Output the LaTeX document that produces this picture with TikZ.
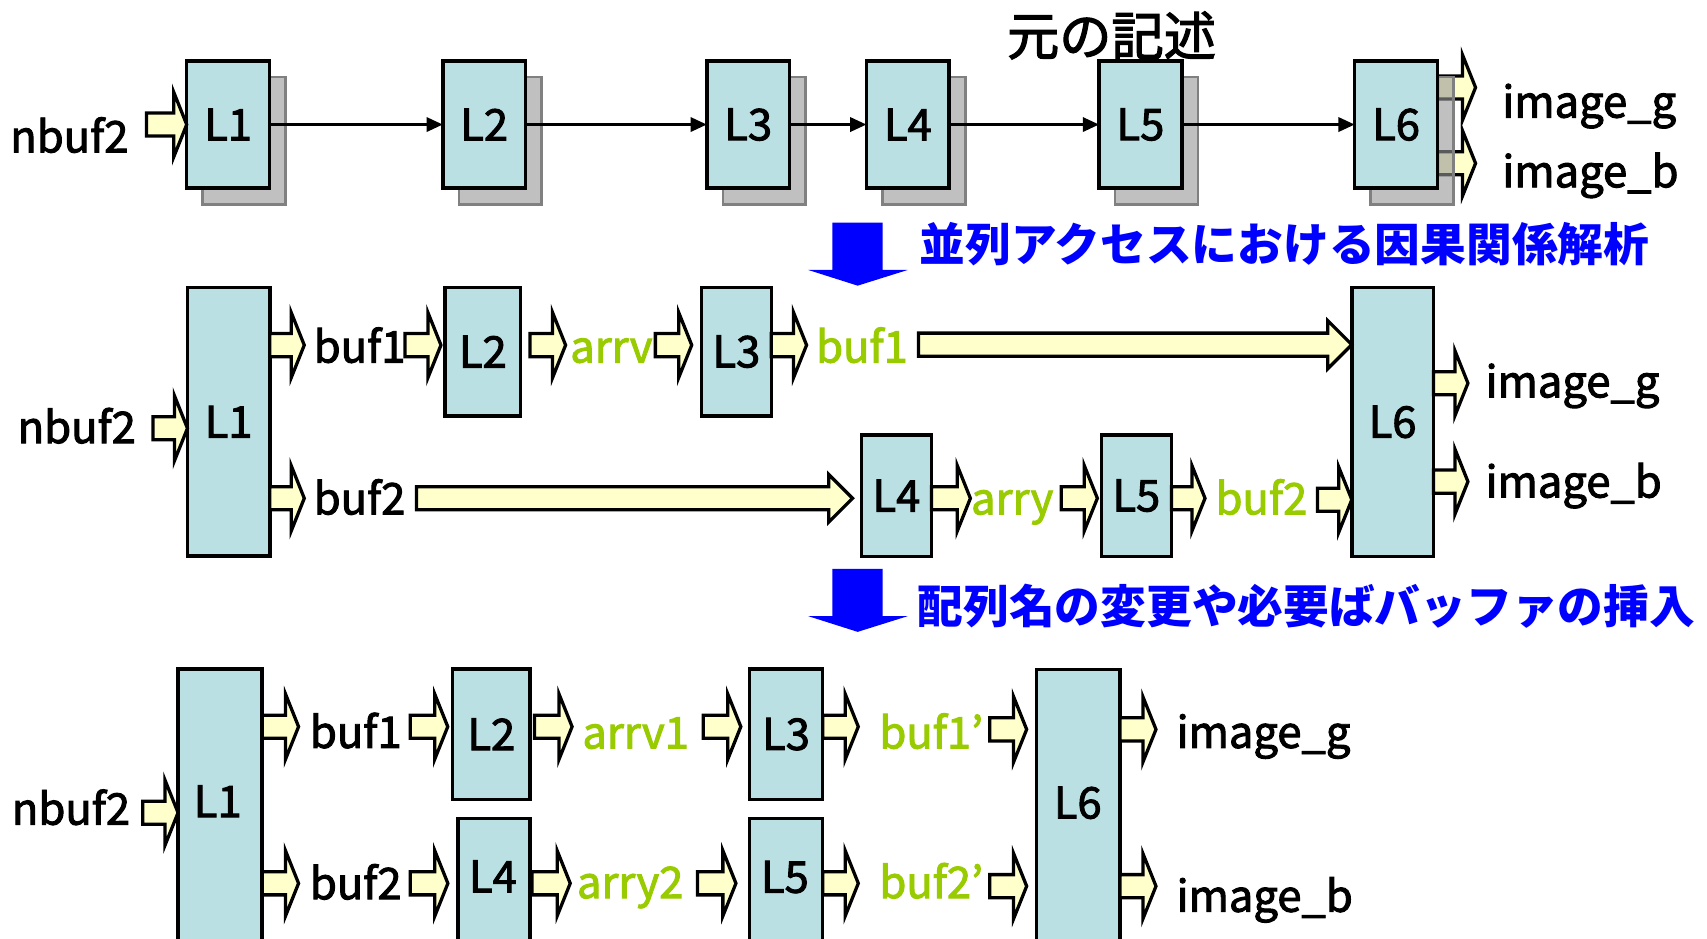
\documentclass[tikz,border=0pt]{standalone}
\usepackage{fontspec}
\setmainfont{Noto Sans CJK JP}
\newfontfamily\medfont{Noto Sans CJK JP}[FakeBold=2.2]
\usetikzlibrary{arrows.meta,calc}
\definecolor{boxc}{RGB}{187,224,227}
\definecolor{argy}{RGB}{255,255,204}
\definecolor{shg}{RGB}{150,150,150}
\definecolor{shb}{RGB}{128,128,128}
\definecolor{grn}{RGB}{153,204,0}
\definecolor{blu}{RGB}{0,0,255}
\pgfdeclarelayer{back}\pgfdeclarelayer{shad}\pgfsetlayers{back,shad,main}
% small fat arrow: #2 = y (px), #3 = start, #4 = tip
\newcommand\FA[4][]{%
  \draw[fatarr,#1] let \p1=(#3), \p2=(#4), \p3=(0,#2) in
   (\x1,\y3+5.3pt) -- (\x2-6pt,\y3+5.3pt) -- (\x2-6pt,\y3+15pt) -- (\x2,\y3)
   -- (\x2-6pt,\y3-15pt) -- (\x2-6pt,\y3-5.3pt) -- (\x1,\y3-5.3pt) -- cycle;}
% long fat arrow
\newcommand\FB[4][]{%
  \draw[fatarr,#1] let \p1=(#3), \p2=(#4), \p3=(0,#2) in
   (\x1,\y3+5.3pt) -- (\x2-11pt,\y3+5.3pt) -- (\x2-11pt,\y3+11pt) -- (\x2,\y3)
   -- (\x2-11pt,\y3-11pt) -- (\x2-11pt,\y3-5.3pt) -- (\x1,\y3-5.3pt) -- cycle;}
\newcommand\SH[1]{%
  \draw[shadowbox] ([shift={(7.35pt,-7.35pt)}]#1.south west) rectangle ([shift={(7.35pt,-7.35pt)}]#1.north east);}
\tikzset{
  box/.style 2 args={draw=black, line width=1.6pt, fill=boxc,
    minimum width=#1*0.5pt, minimum height=#2*0.5pt, inner sep=0pt, outer sep=0pt,
    font=\medfont\fontsize{20}{24}\selectfont},
  txt/.style={inner sep=0pt, outer sep=0pt, font=\medfont\fontsize{20}{24}\selectfont},
  gtxt/.style={txt, text=grn},
  btxt/.style={inner sep=0pt, outer sep=0pt, text=blu, font=\fontsize{21}{25}\selectfont\bfseries},
  fatarr/.style={draw=black, line width=1.5pt, fill=argy, line join=miter},
  thinarr/.style={draw=black, line width=1.4pt, -{Triangle[length=7.5pt,width=6.5pt]}},
  shadowbox/.style={draw=shb, fill=shg, fill opacity=0.6, line width=1.2pt}
}
\begin{document}
\begin{tikzpicture}[x=0.5pt,y=-0.5pt]
\useasboundingbox (0,0) rectangle (1568,862);
\clip (0,0) rectangle (1568,862);
\begin{pgfonlayer}{back}
  \fill[white] (0,0) rectangle (1568,862);
\end{pgfonlayer}

% ---------------- top row ----------------
\node[box={76}{117}] (T1) at (209.5,114.4) {L1};
\node[box={76}{117}] (T2) at (444.8,114.4) {L2};
\node[box={76}{117}] (T3) at (687.3,114.4) {L3};
\node[box={76}{117}] (T4) at (833.9,114.4) {L4};
\node[box={76}{117}] (T5) at (1047.6,114.4) {L5};
\node[box={76}{117}] (T6) at (1282.4,114.4) {L6};
\begin{pgfonlayer}{shad}
  \SH{T1}\SH{T2}\SH{T3}\SH{T4}\SH{T5}\SH{T6}
\end{pgfonlayer}
\node[txt, anchor=base east] (tn) at (118,140) {nbuf2};
\node[txt, anchor=base west] (tig) at (1380,108) {image\_g};
\node[txt, anchor=base west] (tib) at (1380,172) {image\_b};
\node[inner sep=0pt, font=\medfont\fontsize{24}{28}\selectfont] (title) at (1021,32.5) {元の記述};
\draw[thinarr] (T1) -- (T2);
\draw[thinarr] (T2) -- (T3);
\draw[thinarr] (T3) -- (T4);
\draw[thinarr] (T4) -- (T5);
\draw[thinarr] (T5) -- (T6);
\FA{114.4}{[xshift=-18.45pt]T1.west}{T1.west}
\begin{pgfonlayer}{back}
  \FA{80.4}{T6.east}{[xshift=17.5pt]T6.east}
  \FA{150}{T6.east}{[xshift=17.5pt]T6.east}
\end{pgfonlayer}

% blue arrow 1 and caption
\fill[blu] (764.5,204.5) -- (810.7,204.5) -- (810.7,248) -- (833.7,248) -- (787.8,262.4) -- (742.5,248) -- (764.5,248) -- cycle;
\node[btxt, anchor=west] (cap1) at (845,224) {並列アクセスにおける因果関係解析};

% ---------------- middle row ----------------
\node[box={75.6}{246.7}] (M1) at (210,387.4) {L1};
\node[box={69.3}{117.8}] (M2) at (443.5,323) {L2};
\node[box={64.2}{117.8}] (M3) at (676.4,323) {L3};
\node[box={64.3}{111.4}] (M4) at (823.4,455.3) {L4};
\node[box={64.4}{111.4}] (M5) at (1043.8,455.3) {L5};
\node[box={75}{247}] (M6) at (1279.2,387.6) {L6};
\node[txt, anchor=base east] (mn) at (124.8,407) {nbuf2};
\node[txt, anchor=base west] (mb1) at (288.2,333) {buf1};
\node[gtxt, anchor=base west] (marrv) at (523.8,333) {arrv};
\node[gtxt, anchor=base west] (mb1g) at (749.7,333) {buf1};
\node[txt, anchor=base west] (mig) at (1364.6,365) {image\_g};
\node[txt, anchor=base west] (mib) at (1364.6,457) {image\_b};
\node[txt, anchor=base west] (mb2) at (288.2,472.5) {buf2};
\node[gtxt, anchor=base west] (marry) at (892,472.5) {arry};
\node[gtxt, anchor=base west] (mb2g) at (1116.6,472.5) {buf2};

\FA{393.4}{[xshift=-15.8pt]M1.west}{M1.west}
\FA{317}{M1.east}{[xshift=15.85pt]M1.east}
\FA{317}{[xshift=-18.45pt]M2.west}{[xshift=-1.9pt]M2.west}
\FA{317}{[xshift=4.35pt]M2.east}{[xshift=20.7pt]M2.east}
\FA{317}{[xshift=-21.15pt]M3.west}{[xshift=-4.45pt]M3.west}
\FA{317}{M3.east}{[xshift=16.2pt]M3.east}
\FB{316.6}{[xshift=-199.05pt]M6.west}{M6.west}
\FA{352}{M6.east}{[xshift=15.85pt]M6.east}
\FA{442.4}{M6.east}{[xshift=15.85pt]M6.east}
\FA{457.7}{M1.east}{[xshift=15.85pt]M1.east}
\FB{457.7}{[xshift=-204.35pt]M4.west}{[xshift=-4.05pt]M4.west}
\FA{457.7}{M4.east}{[xshift=17.9pt]M4.east}
\FA{457.7}{[xshift=-18.4pt]M5.west}{[xshift=-1.8pt]M5.west}
\FA{457.7}{M5.east}{[xshift=15.45pt]M5.east}
\FA{459}{[xshift=-15.7pt]M6.west}{M6.west}

% blue arrow 2 and caption
\fill[blu, yshift=-159pt] (764.5,204.5) -- (810.7,204.5) -- (810.7,248) -- (833.7,248) -- (787.8,262.4) -- (742.5,248) -- (764.5,248) -- cycle;
\node[btxt, anchor=west] (cap2) at (843,557) {配列名の変更や必要ばバッファの挿入};

% ---------------- bottom row ----------------
\node[box={77.3}{265.5}] (B1) at (202.2,747.3) {};
\node[box={71}{119.7}] (B2) at (451.3,674.4) {L2};
\node[box={67.4}{119.7}] (B3) at (722,674.4) {L3};
\node[box={66}{128.3}] (B4) at (453.8,815.9) {};
\node[box={67.4}{128.3}] (B5) at (722,815.9) {};
\node[box={76.7}{265.2}] (B6) at (990.4,747.4) {};
\node[txt] (B1l) at (200,736) {L1};
\node[txt] (B4l) at (452.8,805) {L4};
\node[txt] (B5l) at (721,805.6) {L5};
\node[txt] (B6l) at (990,737.4) {L6};
\node[txt, anchor=base east] (bn) at (119.5,757.5) {nbuf2};
\node[txt, anchor=base west] (bb1) at (284.7,687) {buf1};
\node[txt, anchor=base west] (bb2) at (284.7,826) {buf2};
\node[gtxt, anchor=base west] (barrv) at (535,687.5) {arrv1};
\node[gtxt, anchor=base west] (barry) at (530,825) {arry2};
\node[gtxt, anchor=base west] (bb1p) at (807.8,687.5) {buf1’};
\node[gtxt, anchor=base west] (bb2p) at (807.8,825) {buf2’};
\node[txt, anchor=base west] (big) at (1080.8,687) {image\_g};
\node[txt, anchor=base west] (bib) at (1080.8,837.5) {image\_b};

\FA{746.5}{[xshift=-16.2pt]B1.west}{B1.west}
\FA{667.5}{B1.east}{[xshift=16.7pt]B1.east}
\FA{667.5}{[xshift=-19.5pt]B2.west}{[xshift=-2.25pt]B2.west}
\FA{667.5}{[xshift=2.1pt]B2.east}{[xshift=19.35pt]B2.east}
\FA{667.5}{[xshift=-21.15pt]B3.west}{[xshift=-3.9pt]B3.west}
\FA{667.5}{B3.east}{[xshift=16.35pt]B3.east}
\FA{670}{[xshift=-21.5pt]B6.west}{[xshift=-4.5pt]B6.west}
\FA{670}{B6.east}{[xshift=16.55pt]B6.east}
\FA{814}{B6.east}{[xshift=16.55pt]B6.east}
\FA{811.4}{B1.east}{[xshift=16.7pt]B1.east}
\FA{811.4}{[xshift=-21.95pt]B4.west}{[xshift=-4.7pt]B4.west}
\FA{811.4}{[xshift=0.9pt]B4.east}{[xshift=18.5pt]B4.east}
\FA{811.4}{[xshift=-23.75pt]B5.west}{[xshift=-6.15pt]B5.west}
\FA{811.4}{B5.east}{[xshift=16.35pt]B5.east}
\FA{814}{[xshift=-21.5pt]B6.west}{[xshift=-4.5pt]B6.west}
\end{tikzpicture}
\end{document}
